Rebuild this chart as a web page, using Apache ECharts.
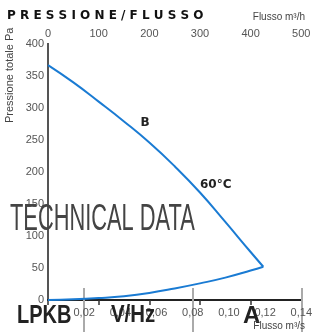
<!DOCTYPE html>
<html>
<head>
<meta charset="utf-8">
<script src="https://cdn.jsdelivr.net/npm/echarts@6/dist/echarts.min.js"></script>
<style>
html, body { margin: 0; padding: 0; background: #fff; }
#chart { width: 315px; height: 332px; }
</style>
</head>
<body>
<div id="chart"></div>
<script>
// portata in m3/h (asse in alto)
const flowM3h = [0, 50, 100, 150, 200, 250, 300, 350, 400, 425];
// curva ventilatore B (Pa)
const curveB = [367, 340, 310, 279, 246, 209, 168, 122, 75, 52];
// curva impianto A (Pa)
const curveA = [0, 1, 3, 6, 11, 18, 26, 35, 46, 52];
// asse in basso m3/s
const flowM3sLabels = [0.02, 0.04, 0.06, 0.08, 0.10, 0.12, 0.14];
const flowM3sTicks = [0.02, 0.08, 0.14];

const chart = echarts.init(document.getElementById('chart'));
const font = 'Liberation Sans';
const blue = '#1a7bd3';

const toPairs = (xs, ys) => xs.map((x, i) => [x, ys[i]]);

const option = {
  backgroundColor: '#fff',
  animation: false,
  grid: { left: 48, top: 44, right: 10, bottom: 32 },
  xAxis: [
    { // m3/h in alto
      type: 'value', position: 'top', min: 0, max: 500, interval: 100,
      axisLine: { show: true, lineStyle: { color: '#222', width: 1.5 } },
      axisTick: { show: true, inside: true, length: 5, lineStyle: { color: '#333', width: 1.5 } },
      axisLabel: { color: '#555', fontSize: 11, fontFamily: font, margin: 5 },
      splitLine: { show: false }
    },
    { // m3/s in basso
      type: 'value', position: 'bottom', min: 0, max: 0.14,
      axisLine: { show: true, lineStyle: { color: '#222', width: 2 } },
      axisTick: { show: true, length: 32, customValues: flowM3sTicks, lineStyle: { color: '#aaa', width: 2 } },
      axisLabel: {
        color: '#555', fontSize: 11, fontFamily: font, margin: 7,
        customValues: flowM3sLabels,
        formatter: v => v.toFixed(2).replace('.', ',')
      },
      splitLine: { show: false }
    },
    { // tacche interne
      type: 'value', position: 'bottom', min: 0, max: 0.14,
      axisLine: { show: false },
      axisTick: { show: true, inside: true, length: 12, customValues: flowM3sTicks, lineStyle: { color: '#aaa', width: 2 } },
      axisLabel: { show: false },
      splitLine: { show: false }
    }
  ],
  yAxis: [
    {
      type: 'value', min: 0, max: 400, interval: 50,
      axisLine: { show: true, lineStyle: { color: '#222', width: 2 } },
      axisTick: { show: false },
      axisLabel: { color: '#555', fontSize: 11, fontFamily: font, margin: 4 },
      splitLine: { show: false }
    },
    {
      type: 'value', position: 'right', min: 0, max: 400,
      axisLine: { show: true, lineStyle: { color: '#555', width: 2 } },
      axisTick: { show: false },
      axisLabel: { show: false },
      splitLine: { show: false }
    }
  ],
  series: [
    {
      name: 'B', type: 'line', xAxisIndex: 0, yAxisIndex: 0,
      data: toPairs(flowM3h, curveB),
      smooth: true, symbol: 'none',
      lineStyle: { color: blue, width: 2 }
    },
    {
      name: 'A', type: 'line', xAxisIndex: 0, yAxisIndex: 0,
      data: toPairs(flowM3h, curveA),
      smooth: true, symbol: 'none',
      lineStyle: { color: blue, width: 2 }
    }
  ],
  graphic: [
    { type: 'text', x: 7, y: 16,
      style: { text: 'P R E S S I O N E / F L U S S O', fontSize: 12, fontWeight: 'bold', fontFamily: 'DejaVu Sans', fill: '#111', verticalAlign: 'middle' } },
    { type: 'text', x: 305, y: 17,
      style: { text: 'Flusso m³/h', fontSize: 10, fontFamily: font, fill: '#444', align: 'right', verticalAlign: 'middle' } },
    { type: 'text', x: 10, y: 123, rotation: Math.PI / 2,
      style: { text: 'Pressione totale Pa', fontSize: 11, fontFamily: font, fill: '#444', align: 'left', verticalAlign: 'middle' } },
    { type: 'text', x: 145, y: 123,
      style: { text: 'B', fontSize: 12, fontWeight: 'bold', fontFamily: 'DejaVu Sans', fill: '#222', align: 'center', verticalAlign: 'middle' } },
    { type: 'text', x: 200, y: 185,
      style: { text: '60°C', fontSize: 12, fontWeight: 'bold', fontFamily: 'DejaVu Sans', fill: '#222', verticalAlign: 'middle' } },
    { type: 'text', x: 10, y: 220, scaleX: 0.59, z: 10,
      style: { text: 'TECHNICAL DATA', fontSize: 37, fontFamily: font, fill: '#444', verticalAlign: 'middle' } },
    { type: 'text', x: 17, y: 316, scaleX: 0.8, z: 10,
      style: { text: 'LPKB', fontSize: 25, fontWeight: 'bold', fontFamily: font, fill: '#222', verticalAlign: 'middle' } },
    { type: 'text', x: 111, y: 315, scaleX: 0.85, z: 10,
      style: { text: 'V/Hz', fontSize: 24, fontWeight: 'bold', fontFamily: font, fill: '#222', verticalAlign: 'middle' } },
    { type: 'text', x: 243, y: 316, z: 10,
      style: { text: 'A', fontSize: 24, fontWeight: 'bold', fontFamily: font, fill: '#222', verticalAlign: 'middle' } },
    { type: 'text', x: 305, y: 326, z: 10,
      style: { text: 'Flusso m³/s', fontSize: 10, fontFamily: font, fill: '#444', align: 'right', verticalAlign: 'middle' } }
  ]
};

chart.setOption(option);
</script>
</body>
</html>
